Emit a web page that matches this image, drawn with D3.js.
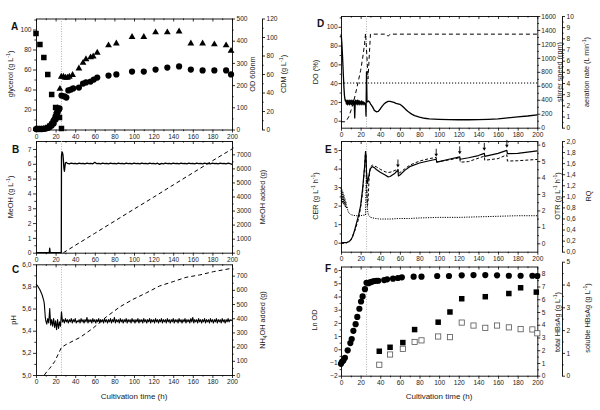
<!DOCTYPE html>
<html><head><meta charset="utf-8">
<script src="https://cdn.jsdelivr.net/npm/d3@7"></script>
<style>body{margin:0;background:#fff}</style>
</head><body><script>
// ---------------- DATA ----------------
const timeTicks = [0,20,40,60,80,100,120,140,160,180,200];
// Panel A
const glyT = [0,4,8,12,16,20,22,24,26];
const glyV = [96,85,72,55,35,22,21,12,1];
const odT = [0,2,4,6,8,10,12,14,16,18,20,21,22,23,24,26,29,31,33,35.6,38,43.8,48,51,55.7,59,62.5,74,82,98,110,122,134,146,158,170,182,194,199];
const odV = [2,2,2,2,3,4,7,11,18,27,45,60,75,88,95,153,149,144,176,180,185,189,207,212,216,225,234,243,248,261,261,270,279,284,270,266,266,266,248];
const cdmT = [0,2,4,6,8,10,12,14,16,18,20,21,22,23,24.4,25.8,28,30,32,34,37.3,43.8,48,51,55.7,58.4,62.5,74,82,98,110,122,134,146,158,170,182,194,199];
const cdmV = [0.5,0.5,0.5,0.5,1,1.5,3,5,8,12,17,20,23,22,44,57,57,56,56,57,59,66,72,76,78,79,83,91,93,100,100,105,105,106,93,93,92,91,85];
// Panel B
const meohT = [0,13.5,14,14.5,25.8,26,26.5,27,27.5,28,28.5,29,29.5,30,31,
  32,34,36,38,40,42,44,46,48,50,52,54,56,58,60,62,64,66,68,70,72,74,76,78,80,82,84,86,88,90,
  92,94,96,98,100,102,104,106,108,110,112,114,116,118,120,122,124,126,128,130,132,134,136,138,140,
  142,144,146,148,150,152,154,156,158,160,162,164,166,168,170,172,174,176,178,180,182,184,186,188,190,
  192,194,196,198,200];
const meohV = [0,0,0.3,0,0,6.5,6.8,6.75,6.6,6.2,5.7,5.5,5.8,6.05,6.1,
  6.03,6.00,6.04,6.01,6.03,5.99,6.04,6.01,6.03,6.00,6.04,6.01,6.03,6.00,6.10,6.01,6.03,6.00,6.04,6.01,
  6.03,6.00,6.04,6.01,6.03,6.00,6.04,6.01,6.03,5.99,6.04,6.01,6.03,6.00,6.04,6.01,6.03,6.00,6.04,6.01,
  6.03,6.00,6.04,6.01,6.03,6.00,6.04,5.96,6.03,6.00,6.04,6.01,6.03,6.00,6.04,6.01,6.03,6.00,6.04,6.01,
  6.03,6.00,6.04,6.01,6.03,6.00,6.04,6.01,6.03,6.00,6.04,6.01,6.03,6.00,6.04,6.01,6.03,6.00,6.04,6.01,
  6.03,6.00,6.04,6.01,5.97];
const meohAddT = [28,40,60,80,100,120,140,160,180,200];
const meohAddV = [0,520,1380,2240,3100,3950,4820,5680,6540,7380];
// Panel C
const phT = [0,2,4,6,7,8,8.5,9,9.5,
  10,11,12,13,14,15,16,17,18,19,20,21,22,23,24,25,26,
  27,28,29,30,31,32,33,34,35,36,37,38,39,40,41,42,43,44,45,46,47,48,49,50,51,52,53,54,55,56,
  57,58,59,60,61,62,63,64,65,66,67,68,69,70,71,72,73,74,75,76,77,78,79,80,81,82,83,84,85,86,
  87,88,89,90,91,92,93,94,95,96,97,98,99,100,101,102,103,104,105,106,107,108,109,110,111,112,113,114,115,116,
  117,118,119,120,121,122,123,124,125,126,127,128,129,130,131,132,133,134,135,136,137,138,139,140,141,142,143,144,145,146,
  147,148,149,150,151,152,153,154,155,156,157,158,159,160,161,162,163,164,165,166,167,168,169,170,171,172,173,174,175,176,
  177,178,179,180,181,182,183,184,185,186,187,188,189,190,191,192,193,194,195,196,197,198,199,200];
const phV = [5.82,5.80,5.77,5.73,5.70,5.67,5.64,5.58,5.52,
  5.49,5.46,5.51,5.47,5.60,5.45,5.50,5.44,5.51,5.43,5.49,5.41,5.50,5.42,5.48,5.44,5.57,
  5.48,5.50,5.47,5.51,5.48,5.50,5.47,5.50,5.48,5.51,5.47,5.50,5.48,5.51,5.47,5.49,5.48,5.50,5.47,5.51,
  5.48,5.50,5.47,5.50,5.48,5.52,5.47,5.50,5.48,5.50,5.47,5.51,5.48,5.50,5.47,5.50,5.48,5.51,5.47,5.50,
  5.48,5.50,5.47,5.51,5.48,5.50,5.47,5.50,5.48,5.51,5.47,5.50,5.48,5.52,5.47,5.50,5.48,5.50,5.47,5.51,
  5.48,5.50,5.47,5.50,5.48,5.51,5.47,5.50,5.48,5.50,5.47,5.51,5.48,5.50,5.47,5.50,5.48,5.51,5.47,5.50,
  5.48,5.50,5.47,5.51,5.48,5.50,5.47,5.50,5.48,5.51,5.47,5.50,5.48,5.50,5.47,5.51,5.48,5.50,5.47,5.50,
  5.48,5.51,5.47,5.50,5.48,5.50,5.47,5.51,5.48,5.50,5.47,5.50,5.48,5.51,5.47,5.50,5.48,5.50,5.47,5.51,
  5.48,5.50,5.47,5.50,5.48,5.51,5.47,5.50,5.48,5.50,5.47,5.51,5.48,5.52,5.47,5.50,5.48,5.50,5.47,5.51,
  5.48,5.50,5.47,5.50,5.48,5.51,5.47,5.50,5.48,5.50,5.47,5.51,5.48,5.50,5.47,5.50,5.48,5.51,5.47,5.50,
  5.48,5.50,5.47,5.51,5.48,5.50,5.47,5.50,5.48,5.51,5.48,5.50,5.49,5.50];
const nhT = [8.5,11,14,19,26,31,45,58,72,86,99,113,126,140,153,167,181,200];
const nhV = [0,23,47,94,195,216,265,329,411,482,533,580,627,658,688,705,728,752];
// Panel D
const doT = [0,0.5,1,1.5,2,2.5,3,3.5,4,4.5,
  5,5.5,6,6.5,7,7.5,8,8.5,9,9.5,10,10.5,11,11.5,12,12.5,13,13.5,14,14.5,15,15.5,16,16.5,17,17.5,18,18.5,19,19.5,20,20.5,21,21.5,22,22.5,23,23.5,24,24.5,25,
  25.5,26,26.5,27,28,29,30,32,34,36,38,40,42,44,46,48,50,52,54,56,58,60,62,64,66,68,70,72,75,80,85,90,100,110,120,130,140,150,160,170,180,190,200];
const doV = [92,88,80,70,58,46,35,27,23,21,
  22,18,21,17,22,18,21,17,22,18,21,17,22,18,21,17,22,18,3,20,22,18,21,17,22,18,21,17,21,18,20,17,21,18,20,17,20,18,19,17,18,
  5,52,20,20,21,20,18,15,11,9.5,10,12.5,15.5,18,19.5,20.5,20.5,20,19.5,18.5,18,17.5,16,14,12,10,8.5,7,5.5,3.8,2.6,2,1.5,1.2,1,1,1.2,1.5,2,3,4,5,6.3];
const stirT = [0,4,6,8,10,12,14,16,18,20,22,24,25,26.5,27.5,28.5,30,46,48,50,200];
const stirV = [85,85,110,160,240,330,440,560,690,820,990,1200,1350,1000,700,950,1340,1340,1310,1340,1340];
const aerT = [0,200];
const aerV = [4,4];
// Panel E
const cerT = [0,5,8,10,12,14,16,18,20,22,24,25,25.5,26,27,28,29,30,32,34,36,40,45,48,50,55,58,58.5,60,65,70,80,90,97,97.5,100,110,121,121.5,130,140,146,146.5,160,169,169.5,180,190,200];
const cerV = [0,0,0.05,0.15,0.35,0.7,1.1,1.5,2.0,2.9,4.1,4.9,4.7,3.8,3.2,3.5,3.8,4.0,4.1,4.05,3.95,3.8,3.65,3.55,3.57,3.75,3.92,3.6,3.65,3.9,4.1,4.3,4.42,4.5,4.35,4.37,4.5,4.63,4.5,4.58,4.7,4.82,4.66,4.82,4.98,4.8,4.82,4.88,4.95];
const otrT = [0,5,10,14,18,20,22,24,25,25.5,26,27,27.5,28.5,29.5,30,32,36,40,45,48,52,58,58.5,60,70,80,90,97,97.5,100,110,121,121.5,130,146,146.5,160,169,169.5,180,200];
const otrV = [0,0,0.2,0.75,1.5,2.2,3.1,4.6,5.6,5.3,3.5,2.3,2.5,3.8,4.5,4.65,4.75,4.65,4.5,4.35,4.3,4.35,4.52,4.25,4.3,4.75,5.0,5.15,5.22,4.95,4.97,5.07,5.2,4.93,4.97,5.3,5.05,5.15,5.38,5.0,5.02,5.1];
const rqT = [0,0.5,1,1.5,2,2.5,3,3.5,4,4.5,5,5.5,6,7,8,10,12,15,18,20,22,24,25,25.5,26,26.5,27,28,30,35,40,50,60,70,80,100,120,140,160,180,200];
const rqV = [1.15,0.85,1.12,0.88,1.08,0.86,1.02,0.84,0.96,0.8,0.9,0.78,0.82,0.74,0.7,0.67,0.66,0.65,0.65,0.65,0.66,0.66,0.66,1.2,1.5,1.0,0.75,0.66,0.62,0.6,0.59,0.59,0.6,0.6,0.61,0.62,0.62,0.63,0.64,0.65,0.65];
const arrowT = [58,97,121,146,169];
// Panel F
const lnT = [0,1,2.4,4,6.8,9.5,10.9,12.6,14.9,16.6,18.7,20.4,22,24.4,26,28,30,32,34,36,38,44,47,53,58,62,74,82,98,110,123,135,147,159,171,183,195,200];
const lnV = [-1.1,-0.95,-0.85,-0.64,-0.08,0.47,0.78,1.4,1.9,2.45,3.07,3.62,4.0,4.55,5.04,5.0,5.08,5.13,5.17,5.19,5.19,5.24,5.3,5.35,5.4,5.45,5.5,5.5,5.55,5.55,5.6,5.62,5.62,5.6,5.57,5.57,5.57,5.55];
const totT = [39,50,63,75,99,111,123,147,171,183,199];
const totV = [1.92,2.23,2.6,3.62,4.2,5.0,6.04,6.2,6.45,6.9,6.56];
const solT = [39,50,63,75,82,99,111,123,135,147,159,171,183,195,200];
const solV = [0.48,0.93,1.18,1.48,1.55,1.72,1.69,2.33,2.2,2.1,2.2,2.12,2.04,2.03,1.86];
const inductionT = 26;

// ---------------- DRAWING ----------------
const FONT = '"Liberation Sans", Arial, Helvetica, sans-serif';
const TICKFS = 6.6;
const svg = d3.select('body').append('svg').attr('width',600).attr('height',410)
  .style('background','#fff').attr('font-family',FONT);

const xL = d3.scaleLinear().domain([0,200]).range([36,232]);
const xR = d3.scaleLinear().domain([0,200]).range([341,537.3]);
const minorX = d3.range(10,200,20);
const comma = f => d => d3.format(f)(d).replace('.',',');

function axis(gen, scale, tr, major, minor, fmt, size, pad){
  size = size===undefined?3:size; pad = pad===undefined?1.5:pad;
  const g = svg.append('g').attr('transform',tr);
  g.call(gen(scale).tickValues(major).tickSize(size).tickSizeOuter(0).tickPadding(pad).tickFormat(fmt||d3.format('d')));
  if(minor){ const m = g.append('g').call(gen(scale).tickValues(minor).tickSize(size*0.55).tickSizeOuter(0).tickFormat(()=>'')); m.select('.domain').remove(); }
  g.selectAll('text').attr('font-size',TICKFS).attr('font-family',FONT).attr('fill','#222');
  g.selectAll('line').attr('stroke','#000').attr('stroke-width',0.8);
  g.selectAll('.domain').attr('stroke','#000').attr('stroke-width',0.9);
  return g;
}
function frame(x, top, bottom){
  axis(d3.axisBottom, x, `translate(0,${bottom})`, timeTicks, minorX);
  axis(d3.axisTop, x, `translate(0,${top})`, timeTicks, minorX, ()=>'', -3);
  svg.append('line').attr('x1',x(inductionT)).attr('x2',x(inductionT)).attr('y1',top).attr('y2',bottom)
    .attr('stroke','#aaa').attr('stroke-width',0.9).attr('stroke-dasharray','1,1.5');
}
function letter(t,x,y){ svg.append('text').attr('x',x).attr('y',y).text(t).attr('font-weight','bold').attr('font-size',10).attr('fill','#111'); }
function title(x,y,parts,rot,size){
  size = size||7.3; rot = rot===undefined?true:rot;
  const t = svg.append('text').attr('transform',`translate(${x},${y})`+(rot?' rotate(-90)':''))
    .attr('text-anchor','middle').attr('font-size',size).attr('fill','#222');
  let cur = size*0.35; let first = true;
  parts.forEach(p=>{
    let txt, target, fs;
    if(typeof p==='string'){ txt=p; target=size*0.35; fs=size; }
    else if(p.sup){ txt=p.sup; target=size*0.35-size*0.4; fs=size*0.7; }
    else { txt=p.sub; target=size*0.35+size*0.25; fs=size*0.7; }
    t.append('tspan').attr('dy', first? target : target-cur).attr('font-size',fs).text(txt);
    cur = target; first=false;
  });
}
function line(x,y,T,V,opt){
  const pts = T.map((t,i)=>[t,V[i]]);
  svg.append('path').attr('d', d3.line().x(d=>x(d[0])).y(d=>y(d[1]))(pts))
    .attr('fill','none').attr('stroke',opt.color||'#000').attr('stroke-width',opt.w||1)
    .attr('stroke-dasharray',opt.dash||null).attr('stroke-linejoin','round');
}
function circles(x,y,T,V,r){ svg.append('g').selectAll('circle').data(T.map((t,i)=>[t,V[i]])).join('circle')
  .attr('cx',d=>x(d[0])).attr('cy',d=>y(d[1])).attr('r',r).attr('fill','#000'); }
function squares(x,y,T,V,s,open){ svg.append('g').selectAll('rect').data(T.map((t,i)=>[t,V[i]])).join('rect')
  .attr('x',d=>x(d[0])-s/2).attr('y',d=>y(d[1])-s/2).attr('width',s).attr('height',s)
  .attr('fill',open?'#fff':'#000').attr('stroke',open?'#555':'none').attr('stroke-width',0.8); }
function triangles(x,y,T,V,size){ svg.append('g').selectAll('path').data(T.map((t,i)=>[t,V[i]])).join('path')
  .attr('d',d3.symbol().type(d3.symbolTriangle).size(size)).attr('transform',d=>`translate(${x(d[0])},${y(d[1])})`).attr('fill','#000'); }

// ----- Panel A -----
{
  const top=18.5,bot=129.5;
  const yG=d3.scaleLinear().domain([0,111]).range([bot,top]);
  const yOD=d3.scaleLinear().domain([0,500]).range([bot,top]);
  const yC=d3.scaleLinear().domain([0,120]).range([bot,top]);
  frame(xL,top,bot);
  axis(d3.axisLeft,yG,`translate(36,0)`,[0,20,40,60,80,100],d3.range(10,111,20));
  axis(d3.axisRight,yOD,`translate(232,0)`,[0,100,200,300,400,500],d3.range(50,500,100));
  axis(d3.axisRight,yC,`translate(262,0)`,[0,20,40,60,80,100,120],d3.range(10,120,20));
  squares(xL,yG,glyT,glyV,5.5);
  triangles(xL,yC,cdmT,cdmV,20);
  circles(xL,yOD,odT,odV,3.1);
  letter('A',11,30);
  title(10,74,['glycerol (g L',{sup:'-1'},')']);
  title(252.5,74,['OD 600nm']);
  title(283,74,['CDM (g L',{sup:'-1'},')']);
}
// ----- Panel B -----
{
  const top=141,bot=252.7;
  const y=d3.scaleLinear().domain([0,7.54]).range([bot,top]);
  const y2=d3.scaleLinear().domain([0,7950]).range([bot,top]);
  frame(xL,top,bot);
  axis(d3.axisLeft,y,`translate(36,0)`,[0,1,2,3,4,5,6,7],d3.range(0.5,7.5,1));
  axis(d3.axisRight,y2,`translate(232,0)`,[0,1000,2000,3000,4000,5000,6000,7000],d3.range(500,7600,1000));
  line(xL,y,meohT,meohV,{w:1.3});
  line(xL,y2,meohAddT,meohAddV,{w:1,dash:'4,3'});
  letter('B',12,153);
  title(10,197,['MeOH (g L',{sup:'-1'},')']);
  title(262.5,197,['MeOH added (g)']);
}
// ----- Panel C -----
{
  const top=264.3,bot=375;
  const y=d3.scaleLinear().domain([5.0,6.0]).range([bot,top]);
  const y2=d3.scaleLinear().domain([0,780]).range([bot,top]);
  frame(xL,top,bot);
  axis(d3.axisLeft,y,`translate(36,0)`,[5.0,5.2,5.4,5.6,5.8,6.0],d3.range(5.1,6.0,0.2),comma('.1f'));
  axis(d3.axisRight,y2,`translate(232,0)`,[0,100,200,300,400,500,600,700],d3.range(50,751,100));
  line(xL,y,phT,phV,{w:1.1});
  line(xL,y2,nhT,nhV,{w:1,dash:'4,3'});
  letter('C',12,273);
  title(13,320,['pH']);
  title(262.5,320,['NH',{sub:'4'},'OH added  (g)']);
  title(134,396,['Cultivation time (h)'],false,8);
}
// ----- Panel D -----
{
  const top=16,bot=127.7;
  const y=d3.scaleLinear().domain([-7.45,111.5]).range([bot,top]);
  const yS=d3.scaleLinear().domain([0,1600]).range([bot,top]);
  const yA=d3.scaleLinear().domain([0,10]).range([bot,top]);
  frame(xR,top,bot);
  axis(d3.axisLeft,y,`translate(341,0)`,[0,20,40,60,80,100],d3.range(10,111,20),null,2.5,0.8);
  axis(d3.axisRight,yS,`translate(537.3,0)`,d3.range(0,1601,200),d3.range(100,1600,200),null,3,1);
  axis(d3.axisRight,yA,`translate(562,0)`,d3.range(0,11,1),d3.range(0.5,10,1));
  line(xR,yA,aerT,aerV,{w:1,dash:'1.2,1.8'});
  line(xR,yS,stirT,stirV,{w:1,dash:'4,3'});
  line(xR,y,doT,doV,{w:1.3});
  letter('D',317,27);
  title(315,72,['DO (%)']);
  title(559,72,['stirrer speed (rpm)']);
  title(586,72,['aeration rate  (L min',{sup:'-1'},')']);
}
// ----- Panel E -----
{
  const top=141,bot=251.7;
  const y=d3.scaleLinear().domain([-0.485,5.485]).range([bot,top]);
  const yO=d3.scaleLinear().domain([-0.51,6.22]).range([bot,top]);
  const yQ=d3.scaleLinear().domain([0,2]).range([bot,top]);
  frame(xR,top,bot);
  axis(d3.axisLeft,y,`translate(341,0)`,[0,1,2,3,4,5],d3.range(0.5,5.5,1),null,2.5,0.8);
  axis(d3.axisRight,yO,`translate(537.3,0)`,[0,1,2,3,4,5,6],d3.range(0.5,6.1,1));
  axis(d3.axisRight,yQ,`translate(562,0)`,d3.range(0,2.01,0.2).map(v=>+v.toFixed(1)),d3.range(0.1,2,0.2),comma('.1f'));
  line(xR,yQ,rqT,rqV,{w:1,dash:'1.2,1.2'});
  line(xR,yO,otrT,otrV,{w:1,dash:'3,2'});
  line(xR,y,cerT,cerV,{w:1.2});
  arrowT.forEach(t=>{
    const i=cerT.indexOf(t); const xx=xR(t), yy=y(cerV[i])-2.5;
    svg.append('line').attr('x1',xx).attr('x2',xx).attr('y1',yy-8).attr('y2',yy-2).attr('stroke','#000').attr('stroke-width',0.9);
    svg.append('path').attr('d',`M${xx-1.8},${yy-3}L${xx+1.8},${yy-3}L${xx},${yy}Z`).attr('fill','#000');
  });
  letter('E',325,153);
  title(315,196,['CER (g L',{sup:'-1'},' h',{sup:'-1'},')']);
  title(557,196,['OTR (g L',{sup:'-1'},' h',{sup:'-1'},')']);
  title(588,196,['RQ']);
}
// ----- Panel F -----
{
  const top=266.5,bot=375.7;
  const y=d3.scaleLinear().domain([-2,6.27]).range([bot,top]);
  const yT=d3.scaleLinear().domain([0,8.57]).range([bot,top]);
  const yS=d3.scaleLinear().domain([0,5]).range([bot,261.7]);
  frame(xR,top,bot);
  axis(d3.axisLeft,y,`translate(341,0)`,[-2,-1,0,1,2,3,4,5,6],d3.range(-1.5,6,1),null,2.5,0.8);
  axis(d3.axisRight,yT,`translate(537.3,0)`,[0,1,2,3,4,5,6,7,8],d3.range(0.5,8.5,1));
  axis(d3.axisRight,yS,`translate(562,0)`,[0,1,2,3,4,5],d3.range(0.5,5,1));
  squares(xR,yS,solT,solV,5.2,true);
  squares(xR,yT,totT,totV,5.5,false);
  circles(xR,y,lnT,lnV,3.1);
  letter('F',325,272);
  title(314,320,['Ln OD']);
  title(557,322,['total HBsAg (g L',{sup:'-1'},')']);
  title(587,318,['soluble HBsAg (g L',{sup:'-1'},')']);
  title(439,396,['Cultivation time (h)'],false,8);
}
</script></body></html>
